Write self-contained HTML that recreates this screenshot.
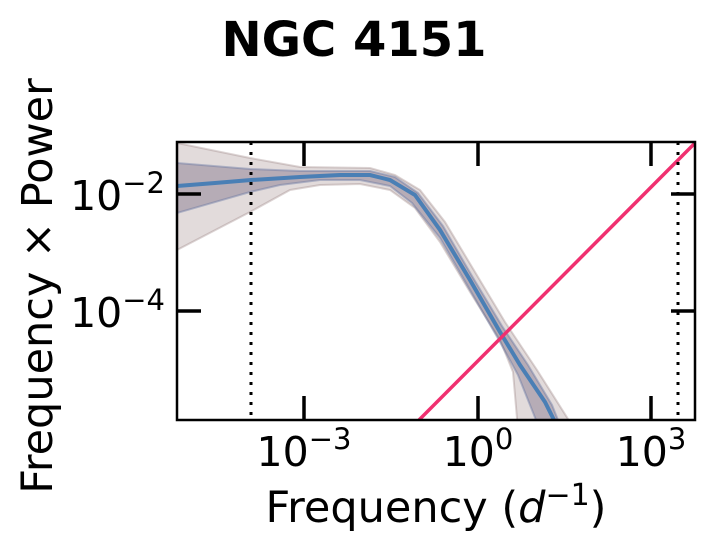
<!DOCTYPE html>
<html><head><style>body{margin:0;background:#fff;}svg{display:block;font-family:"DejaVu Sans","Liberation Sans",sans-serif;}</style></head>
<body>
<svg width="714" height="553" viewBox="0 0 714 553">
<text x="354" y="56" font-size="48" font-weight="bold" text-anchor="middle">NGC 4151</text>
<defs><clipPath id="c"><rect x="177" y="142" width="518" height="278"/></clipPath></defs>
<g clip-path="url(#c)">
<path d="M177,143 L250,158 L300,167 L370,168 L395,175 L420,190 L445,222 L475,272 L505,322 L537,370 L575,430 L518,430 L513,372 L500,340 L470,292 L440,242 L415,208 L390,190 L360,184 L320,185 L290,190 L250,212 L177,250 Z" fill="#8a7070" fill-opacity="0.25" stroke="#8a7070" stroke-opacity="0.3" stroke-width="2"/>
<path d="M177,163 L250,169 L300,171 L370,171 L395,177 L418,193 L443,226 L472,276 L502,326 L528,365 L552,405 L562,430 L540,430 L518,375 L500,342 L470,290 L440,238 L412,203 L390,186 L360,180 L320,180 L280,185 L250,192 L177,213 Z" fill="#504060" fill-opacity="0.3" stroke="#6070a0" stroke-opacity="0.4" stroke-width="2"/>
<path d="M177,186 L215,183 L251,180 L300,177 L340,175 L370,175 L390,180 L415,195 L440,230 L470,280 L500,332 L520,365 L545,402 L555,422" fill="none" stroke="#ff7f0e" stroke-width="3"/>
<path d="M177,186 L215,183 L251,180 L300,177 L340,175 L370,175 L390,180 L415,195 L440,230 L470,280 L500,332 L520,365 L545,402 L555,422" fill="none" stroke="#4a7fb5" stroke-width="4"/>
<line x1="419" y1="420" x2="696" y2="142" stroke="#f03070" stroke-width="3.5"/>
</g>
<line x1="251" y1="142" x2="251" y2="420" stroke="#000" stroke-width="3" stroke-dasharray="3,7"/>
<line x1="678" y1="142" x2="678" y2="420" stroke="#000" stroke-width="3" stroke-dasharray="3,7"/>
<rect x="177" y="142" width="518" height="278" fill="none" stroke="#000" stroke-width="2.5"/>
<g stroke="#000" stroke-width="3.5">
<line x1="304" y1="142" x2="304" y2="166"/><line x1="478" y1="142" x2="478" y2="166"/><line x1="651" y1="142" x2="651" y2="166"/>
<line x1="304" y1="420" x2="304" y2="396"/><line x1="478" y1="420" x2="478" y2="396"/><line x1="651" y1="420" x2="651" y2="396"/>
<line x1="177" y1="194" x2="201" y2="194"/><line x1="177" y1="311" x2="201" y2="311"/>
<line x1="695" y1="194" x2="671" y2="194"/><line x1="695" y1="311" x2="671" y2="311"/>
</g>
<g font-size="41">
<text x="165" y="210" text-anchor="end">10<tspan font-size="29" dy="-17">−2</tspan></text>
<text x="165" y="327" text-anchor="end">10<tspan font-size="29" dy="-17">−4</tspan></text>
<text x="304" y="466" text-anchor="middle">10<tspan font-size="29" dy="-17">−3</tspan></text>
<text x="478" y="466" text-anchor="middle">10<tspan font-size="29" dy="-17">0</tspan></text>
<text x="651" y="466" text-anchor="middle">10<tspan font-size="29" dy="-17">3</tspan></text>
</g>
<g font-size="43">
<text x="436" y="522" text-anchor="middle">Frequency (<tspan font-style="italic">d</tspan><tspan font-size="30" dy="-17">−1</tspan><tspan dy="17">)</tspan></text>
<text transform="translate(52,286) rotate(-90)" text-anchor="middle">Frequency × Power</text>
</g>
</svg>
</body></html>
